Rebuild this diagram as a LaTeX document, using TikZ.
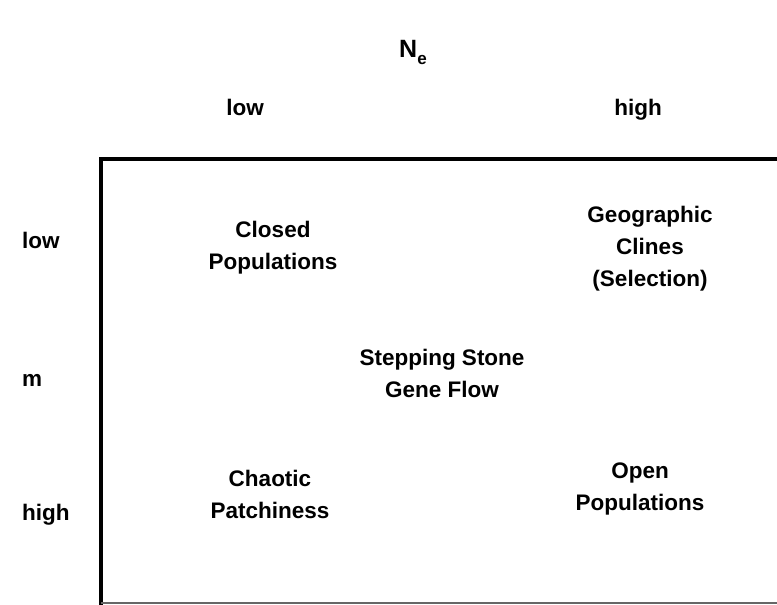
\documentclass[tikz,border=0pt]{standalone}
\usepackage{fontspec}
\setmainfont{Liberation Sans}
\begin{document}
\begin{tikzpicture}[x=1pt,y=-1pt,
  lbl/.style={font=\bfseries\fontsize{22.5}{32}\selectfont, align=center, inner sep=0pt},
  one/.style={lbl, anchor=base},
  side/.style={lbl, anchor=base west}]
\useasboundingbox (0,0) rectangle (777,605);
\node[one, font=\bfseries\fontsize{25}{30}\selectfont] (ne) at (413,57) {N\raisebox{-0.28em}{\fontsize{17}{20}\selectfont e}};
\node[one] (clow) at (245,115) {low};
\node[one] (chigh) at (638,115) {high};
\node[side] (rlow) at (22,248) {low};
\node[side] (rm) at (22,386) {m};
\node[side] (rhigh) at (22,520) {high};
\coordinate (tl) at (101,159);
\coordinate (tr) at (777,159);
\coordinate (bl) at (101,605);
\coordinate (br) at (777,603);
\coordinate (bl2) at (101,603);
\draw[line width=4pt] (tr) -- (tl) -- (bl);
\draw[line width=1.5pt, black!60] (bl2) -- (br);
\node[lbl] (closed) at (273,248) {Closed\\Populations};
\node[lbl] (geo) at (650,249) {Geographic\\Clines\\(Selection)};
\node[lbl] (step) at (442,373) {Stepping Stone\\Gene Flow};
\node[lbl] (chaos) at (270,494) {Chaotic\\Patchiness};
\node[lbl] (open) at (640,489) {Open\\Populations};
\end{tikzpicture}
\end{document}
